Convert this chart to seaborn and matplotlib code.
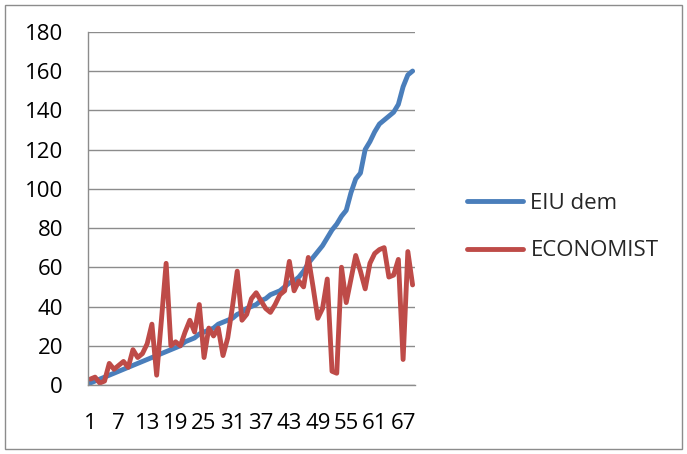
import pandas as pd
import matplotlib
matplotlib.use("Agg")
import matplotlib.pyplot as plt
import seaborn as sns
from matplotlib.patches import Rectangle

# values
eiu_dem = [1, 2, 3, 4, 5, 6, 7, 8, 9, 10, 11, 12, 13, 14, 15, 16, 17, 18, 19, 20,
           22, 23, 24, 26, 27, 28, 29, 31, 32, 33, 34,
           36, 37, 39, 40, 41, 43, 44, 46, 47, 48,
           50, 52, 53, 55, 58, 62, 65, 68, 71, 75, 79, 82, 86, 89, 98, 105, 108,
           120, 124, 129, 133, 135, 137, 139, 143, 152, 158, 160]
economist = [3, 4, 1, 2, 11, 8, 10, 12, 9, 18, 14, 16, 21, 31, 5, 33, 62,
             20, 22, 20, 27, 33, 27, 41, 14, 29, 25, 29, 15, 24, 40, 58, 33, 36, 44,
             47, 43, 39, 37, 41, 46, 48, 63, 48, 53, 50, 65, 50, 34, 39, 54, 7, 6,
             60, 42, 54, 66, 58, 49, 62, 67, 69, 70, 55, 56, 64, 13, 68, 51]
series_names = ["EIU dem", "ECONOMIST"]
x_ticks = list(range(1, 70, 6))
y_ticks = list(range(0, 181, 20))

idx = list(range(1, len(eiu_dem) + 1))
df = pd.concat([
    pd.DataFrame({"idx": idx, "value": eiu_dem, "series": series_names[0]}),
    pd.DataFrame({"idx": idx, "value": economist, "series": series_names[1]}),
])

sns.set_style("white")
plt.rcParams["font.family"] = ["Open Sans", "DejaVu Sans"]

colors = {"EIU dem": "#4A7EBB", "ECONOMIST": "#BE4B48"}
fs = 16

fig = plt.figure(figsize=(6.87, 4.54), dpi=100)
ax = fig.add_axes([0.128, 0.152, 0.476, 0.778])

sns.lineplot(data=df, x="idx", y="value", hue="series", ax=ax,
             palette=colors, linewidth=3.5, legend=False)

ax.set_xlim(1, len(idx))
ax.set_ylim(0, 180)
ax.set_yticks(y_ticks)
ax.set_xticks(x_ticks)
ax.set_xticklabels([str(t) for t in x_ticks])
ax.set_xticks([i + 0.5 for i in range(0, len(idx) + 1)], minor=True)
ax.yaxis.grid(True, color="#8c8c8c", linewidth=1)
ax.set_axisbelow(True)
ax.set_xlabel("")
ax.set_ylabel("")
for side in ["top", "right"]:
    ax.spines[side].set_visible(False)
for side in ["left", "bottom"]:
    ax.spines[side].set_color("#8c8c8c")
    ax.spines[side].set_linewidth(1)
ax.tick_params(axis="y", which="major", labelsize=fs, color="#8c8c8c",
               labelcolor="black", length=7, pad=11, direction="out")
ax.tick_params(axis="x", which="major", labelsize=fs, labelcolor="black",
               length=0, pad=20)
ax.tick_params(axis="x", which="minor", length=5, color="#8c8c8c")

handles = [plt.Line2D([], [], color=colors[n], lw=3.5, solid_capstyle="round")
           for n in series_names]
fig.legend(handles, series_names, loc="center left", bbox_to_anchor=(0.680, 0.5),
           frameon=False, fontsize=fs, labelspacing=1.2, handlelength=2.5,
           handletextpad=0.35, borderpad=0, borderaxespad=0)

fig.patches.append(Rectangle((0.007, 0.011), 0.986, 0.977, transform=fig.transFigure,
                             fill=False, edgecolor="#8c8c8c", linewidth=1))

fig.savefig("out.png", dpi=100)
